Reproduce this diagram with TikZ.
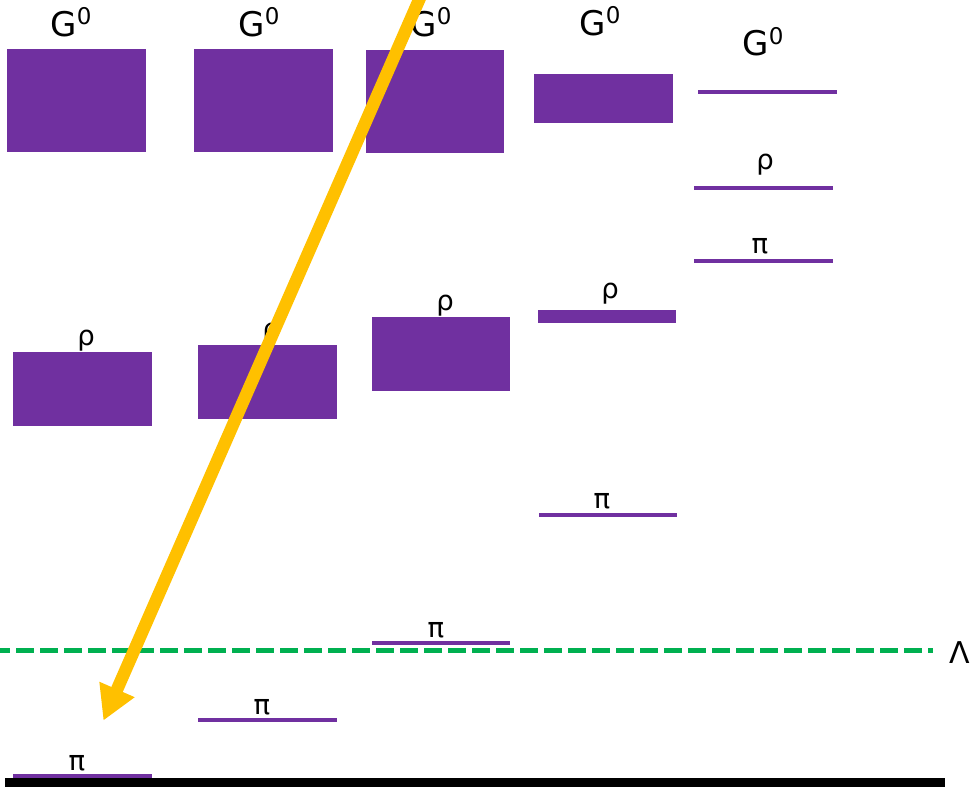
\documentclass[tikz,border=0pt]{standalone}
\usepackage{fontspec}
\setmainfont{DejaVu Sans}
\usetikzlibrary{arrows.meta}

\definecolor{lvpurple}{HTML}{7030A0}
\definecolor{cutgreen}{HTML}{00B050}
\definecolor{flowgold}{HTML}{FFC000}

% G^0 heading
\newcommand{\Gzero}{G\raisebox{12pt}{\fontsize{23}{23}\selectfont 0}}

\begin{document}
\begin{tikzpicture}[
  x=1pt, y=-1pt,
  every node/.style={inner sep=0pt, outer sep=0pt},
  lvbox/.style={fill=lvpurple, draw=none, rectangle},
  lvline/.style={lvbox, minimum height=4pt},
  glabel/.style={anchor=base, font=\fontsize{34}{40}\selectfont},
  slabel/.style={anchor=base, font=\fontsize{27.5}{32}\selectfont},
  cutline/.style={draw=cutgreen, line width=5.5pt, dash pattern=on 18pt off 6pt, dash phase=8pt},
  flowarrow/.style={draw=flowgold, line width=12.5pt, -{Triangle[length=34pt, width=36pt]}, fill=flowgold}
]
\useasboundingbox (0,0) rectangle (970,787);
\clip (0,0) rectangle (970,787);

% top row: G^0 levels
\node[lvbox, minimum width=139pt, minimum height=103pt] (g1) at (76.5,100.5) {};
\node[lvbox, minimum width=139pt, minimum height=103pt] (g2) at (263.5,100.5) {};
\node[lvbox, minimum width=138pt, minimum height=103pt] (g3) at (435,101.5) {};
\node[lvbox, minimum width=139pt, minimum height=49pt] (g4) at (603.5,98.5) {};
\node[lvline, minimum width=139pt] (g5) at (767.5,91.5) {};

\node[glabel] (gl1) at (71,36) {\Gzero};
\node[glabel] (gl2) at (259,36) {\Gzero};
\node[glabel] (gl3) at (431,36) {\Gzero};
\node[glabel] (gl4) at (600,35) {\Gzero};
\node[glabel] (gl5) at (763,56) {\Gzero};

% rho levels
\node[lvbox, minimum width=139pt, minimum height=74pt] (r1) at (82.5,389) {};
\node[lvbox, minimum width=139pt, minimum height=74pt] (r2) at (267.5,382) {};
\node[lvbox, minimum width=138pt, minimum height=74pt] (r3) at (441,354) {};
\node[lvbox, minimum width=138pt, minimum height=13pt] (r4) at (607,316.5) {};
\node[lvline, minimum width=139pt] (r5) at (763.5,187.5) {};

\node[slabel] (rl1) at (86,345) {ρ};
\node[slabel] (rl2) at (271,338) {ρ};
\node[slabel] (rl3) at (445,310) {ρ};
\node[slabel] (rl4) at (610,298) {ρ};
\node[slabel] (rl5) at (765,169) {ρ};

% pi levels
\node[lvline, minimum width=139pt] (p1) at (82.5,775.5) {};
\node[lvline, minimum width=139pt] (p2) at (267.5,720) {};
\node[lvline, minimum width=138pt] (p3) at (441,643) {};
\node[lvline, minimum width=138pt] (p4) at (608,514.5) {};
\node[lvline, minimum width=139pt] (p5) at (763.5,261) {};

\node[slabel] (pl1) at (77,770) {π};
\node[slabel] (pl2) at (262,714) {π};
\node[slabel] (pl3) at (436,637) {π};
\node[slabel] (pl4) at (602,508) {π};
\node[slabel] (pl5) at (760,253) {π};

% cutoff line
\coordinate (cutL) at (0,650.5);
\coordinate (cutR) at (933,650.5);
\draw[cutline] (cutL) -- (cutR);
\node[anchor=base west, font=\fontsize{30}{34}\selectfont] (lam) at (949,663) {Λ};

% ground bar
\fill[black] (5,778) rectangle (945,792);

% flow arrow
\coordinate (flowstart) at (423.4,-10);
\coordinate (flowtip) at (103.4,720.6);
\draw[flowarrow] (flowstart) -- (flowtip);
\end{tikzpicture}
\end{document}
